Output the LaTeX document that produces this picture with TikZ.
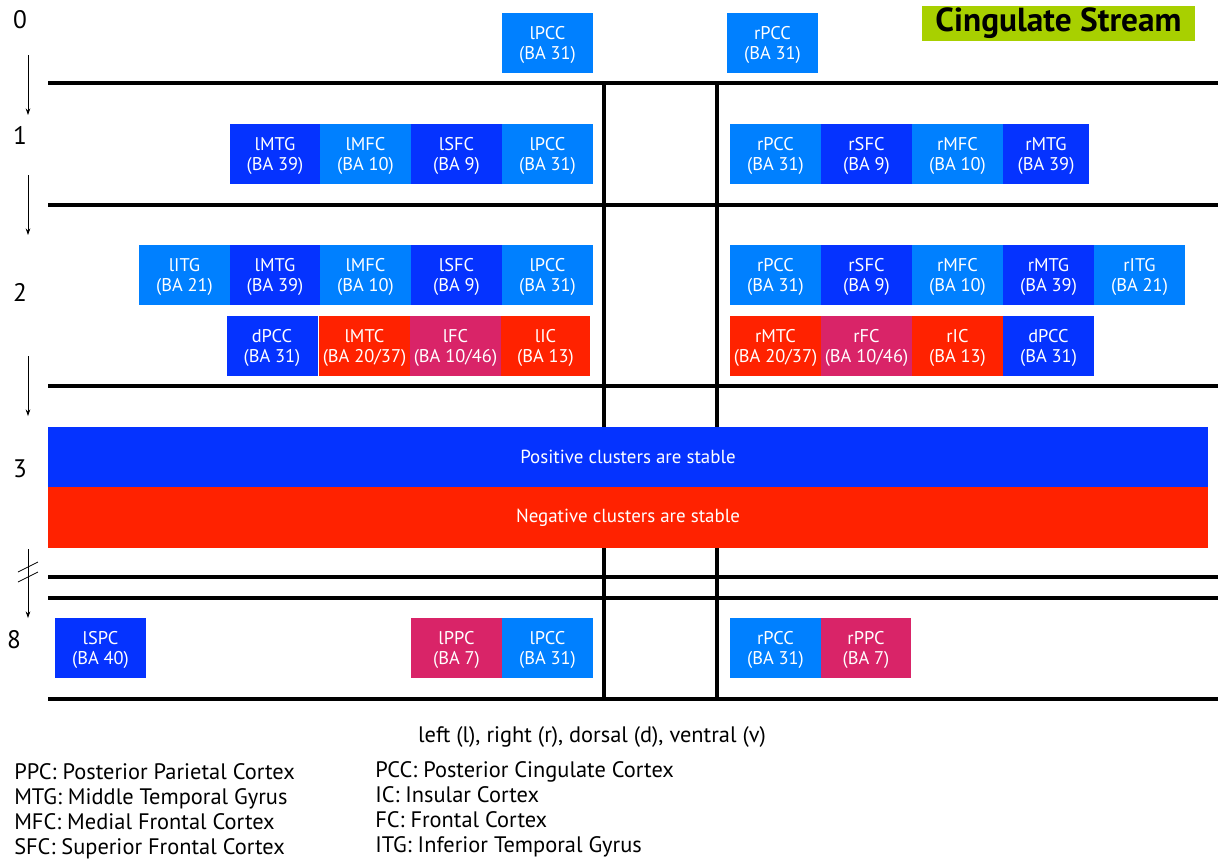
\documentclass[tikz,border=0pt]{standalone}
\usepackage{fontspec}
\setmainfont{PT Sans}
\usetikzlibrary{arrows.meta}
\definecolor{lb}{HTML}{0080FF}
\definecolor{db}{HTML}{0533FF}
\definecolor{rd}{HTML}{FF2200}
\definecolor{mg}{HTML}{D92468}
\definecolor{gr}{HTML}{A8D000}
\tikzset{
  roi/.style={rectangle, inner sep=0pt, minimum width=68.25pt, minimum height=45pt,
    text=white, align=center, text depth=0pt, font=\fontsize{13.8}{15}\selectfont},
  L/.style={roi, fill=lb}, D/.style={roi, fill=db}, R/.style={roi, fill=rd}, M/.style={roi, fill=mg},
  bar/.style={line width=3pt},
  stage/.style={font=\fontsize{19}{20}\selectfont, inner sep=0pt},
  stagearrow/.style={line width=0.6pt, -{Stealth[length=5pt,width=3.5pt]}},
  legend/.style={font=\fontsize{16.8}{18}\selectfont, anchor=base west, inner sep=0pt},
  band/.style={rectangle, inner sep=0pt, minimum width=870pt, minimum height=45.75pt, text=white, font=\fontsize{14.2}{16}\selectfont}
}
\begin{document}
\begin{tikzpicture}[x=0.75pt, y=-0.75pt]
\useasboundingbox (0,0) rectangle (1221,858);
% grid lines
\foreach \yy in {83,205,386,577,598,699} \draw[bar] (48,\yy) -- (1218,\yy);
\draw[bar] (604,83) -- (604,699);
\draw[bar] (717,83) -- (717,699);
% title
\node[fill=gr, inner sep=0pt, minimum width=204.75pt, minimum height=26.25pt, font=\fontsize{25}{26}\selectfont\bfseries] (title) at (1058.5,23.5) {Cingulate Stream};
% stage labels
\node[stage] (s0) at (20,20) {0};
\node[stage] (s1) at (20,135) {1};
\node[stage] (s2) at (20,292) {2};
\node[stage] (s3) at (20,469) {3};
\node[stage] (s8) at (14,640) {8};
\coordinate (a0s) at (28,55); \coordinate (a0e) at (28,115);
\coordinate (a1s) at (28,175); \coordinate (a1e) at (28,235);
\coordinate (a2s) at (28,356); \coordinate (a2e) at (28,416);
\coordinate (a3s) at (28,549); \coordinate (a3e) at (28,618);
\draw[stagearrow] (a0s) -- (a0e);
\draw[stagearrow] (a1s) -- (a1e);
\draw[stagearrow] (a2s) -- (a2e);
\draw[stagearrow] (a3s) -- (a3e);
\coordinate (b1s) at (18,572); \coordinate (b1e) at (38,562);
\coordinate (b2s) at (18,582); \coordinate (b2e) at (38,572);
\draw[line width=0.6pt] (b1s) -- (b1e);
\draw[line width=0.6pt] (b2s) -- (b2e);
% row 0
\node[L] (r0l) at (547.5,43) {lPCC\\(BA 31)};
\node[L] (r0r) at (772.5,43) {rPCC\\(BA 31)};
% row 1
\node[D] (r1l1) at (275,154) {lMTG\\(BA 39)};
\node[L] (r1l2) at (365.5,154) {lMFC\\(BA 10)};
\node[D] (r1l3) at (456.5,154) {lSFC\\(BA 9)};
\node[L] (r1l4) at (547.5,154) {lPCC\\(BA 31)};
\node[L] (r1r1) at (775.5,154) {rPCC\\(BA 31)};
\node[D] (r1r2) at (866.5,154) {rSFC\\(BA 9)};
\node[L] (r1r3) at (957.5,154) {rMFC\\(BA 10)};
\node[D, minimum width=64.5pt] (r1r4) at (1046,154) {rMTG\\(BA 39)};
% row 2a
\node[L] (r2l0) at (184.5,275) {lITG\\(BA 21)};
\node[D] (r2l1) at (275,275) {lMTG\\(BA 39)};
\node[L] (r2l2) at (365.5,275) {lMFC\\(BA 10)};
\node[D] (r2l3) at (456.5,275) {lSFC\\(BA 9)};
\node[L] (r2l4) at (547.5,275) {lPCC\\(BA 31)};
\node[L] (r2r1) at (775.5,275) {rPCC\\(BA 31)};
\node[D] (r2r2) at (866.5,275) {rSFC\\(BA 9)};
\node[L] (r2r3) at (957.5,275) {rMFC\\(BA 10)};
\node[D] (r2r4) at (1048.5,275) {rMTG\\(BA 39)};
\node[L] (r2r5) at (1139.5,275) {rITG\\(BA 21)};
% row 2b
\node[D] (r2bl1) at (272,346) {dPCC\\(BA 31)};
\node[R] (r2bl2) at (364.5,346) {lMTC\\(BA 20/37)};
\node[M] (r2bl3) at (455.5,346) {lFC\\(BA 10/46)};
\node[R, minimum width=66.75pt] (r2bl4) at (545.5,346) {lIC\\(BA 13)};
\node[R] (r2br1) at (775.5,346) {rMTC\\(BA 20/37)};
\node[M] (r2br2) at (866.5,346) {rFC\\(BA 10/46)};
\node[R] (r2br3) at (957.5,346) {rIC\\(BA 13)};
\node[D] (r2br4) at (1048.5,346) {dPCC\\(BA 31)};
% stage 3 bands
\node[band, fill=db] (pos) at (628,457) {Positive clusters are stable};
\node[band, fill=rd] (neg) at (628,517.5) {Negative clusters are stable};
% row 8
\node[D] (r8l1) at (100.5,648) {lSPC\\(BA 40)};
\node[M] (r8l2) at (456.5,648) {lPPC\\(BA 7)};
\node[L] (r8l3) at (547.5,648) {lPCC\\(BA 31)};
\node[L] (r8r1) at (775.5,648) {rPCC\\(BA 31)};
\node[M, minimum width=67.5pt] (r8r2) at (866,648) {rPPC\\(BA 7)};
% legend
\node[legend, anchor=base] (dir) at (592,742) {left (l), right (r), dorsal (d), ventral (v)};
\node[legend] (g1) at (14,779) {PPC: Posterior Parietal Cortex};
\node[legend] (g2) at (14,804) {MTG: Middle Temporal Gyrus};
\node[legend] (g3) at (14,829) {MFC: Medial Frontal Cortex};
\node[legend] (g4) at (14,854) {SFC: Superior Frontal Cortex};
\node[legend] (g5) at (375,777) {PCC: Posterior Cingulate Cortex};
\node[legend] (g6) at (375,802) {IC: Insular Cortex};
\node[legend] (g7) at (375,827) {FC: Frontal Cortex};
\node[legend] (g8) at (375,852) {ITG: Inferior Temporal Gyrus};
\end{tikzpicture}
\end{document}
